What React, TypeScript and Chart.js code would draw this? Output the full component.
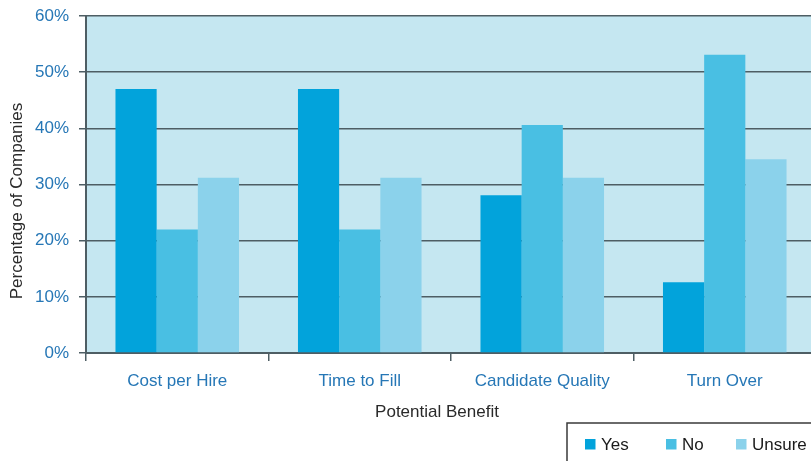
import React, { useEffect, useRef } from "react";
import { Chart, registerables } from "chart.js";

Chart.register(...registerables);

const categories = ["Cost per Hire", "Time to Fill", "Candidate Quality", "Turn Over"];
const seriesNames = ["Yes", "No", "Unsure"];
const yesValues = [47, 47, 28.1, 12.6];
const noValues = [22, 22, 40.6, 53.1];
const unsureValues = [31.2, 31.2, 31.2, 34.5];
const yTickMax = 60;
const yTickStep = 10;
const xAxisTitle = "Potential Benefit";
const yAxisTitle = "Percentage of Companies";

const colors = ["#02a3db", "#49bfe3", "#8bd2eb"];
const FONT = "'Liberation Sans', Arial, Helvetica, sans-serif";
const GRID = "#4e5e64";
const TICK_BLUE = "#2677b6";

const CANVAS_W = 816;
const CANVAS_H = 461;

const bgPlugin = {
  id: "plotBg",
  beforeDraw(chart: any) {
    const { ctx, chartArea } = chart;
    ctx.save();
    ctx.fillStyle = "#c5e7f1";
    ctx.fillRect(chartArea.left, chartArea.top, chartArea.right - chartArea.left, chartArea.bottom - chartArea.top);
    ctx.restore();
  },
};

const titlesPlugin = {
  id: "axisTitles",
  afterDraw(chart: any) {
    const { ctx } = chart;
    ctx.save();
    ctx.font = `17px ${FONT}`;
    ctx.fillStyle = "#2a2a2a";
    ctx.textAlign = "center";
    ctx.textBaseline = "middle";
    ctx.fillText(xAxisTitle, 437, 412);
    ctx.translate(17, 201);
    ctx.rotate(-Math.PI / 2);
    ctx.fillText(yAxisTitle, 0, 0);
    ctx.restore();
  },
};

const legendX = [585, 666, 736];

const legendPlugin = {
  id: "boxLegend",
  afterDraw(chart: any) {
    const { ctx } = chart;
    ctx.save();
    ctx.strokeStyle = "#3a3a3a";
    ctx.lineWidth = 1.5;
    ctx.strokeRect(567, 423, CANVAS_W, 60);
    ctx.font = `17px ${FONT}`;
    ctx.textBaseline = "middle";
    ctx.textAlign = "left";
    chart.data.datasets.forEach((ds: any, i: number) => {
      const x = legendX[i];
      ctx.fillStyle = ds.backgroundColor;
      ctx.fillRect(x, 439, 10.5, 10.5);
      ctx.fillStyle = "#1a1a1a";
      ctx.fillText(ds.label, x + 16, 445);
    });
    ctx.restore();
  },
};

export default function App() {
  const ref = useRef<HTMLCanvasElement | null>(null);

  useEffect(() => {
    if (!ref.current) return;
    const chart = new Chart(ref.current, {
      type: "bar",
      data: {
        labels: categories,
        datasets: [yesValues, noValues, unsureValues].map((vals, i) => ({
          label: seriesNames[i],
          data: vals,
          backgroundColor: colors[i],
          borderWidth: 0,
          barPercentage: 1.0,
          categoryPercentage: 0.677,
        })),
      },
      options: {
        responsive: false,
        animation: false,
        devicePixelRatio: 1,
        layout: { padding: { top: 16, left: 0, right: 0, bottom: 0 } },
        plugins: {
          legend: { display: false },
          tooltip: { enabled: false },
        },
        scales: {
          x: {
            afterFit(scale: any) {
              scale.height = CANVAS_H - 353;
            },
            grid: {
              display: true,
              drawOnChartArea: false,
              drawTicks: true,
              tickLength: 8,
              color: GRID,
              lineWidth: 1.5,
              offset: true,
            },
            border: { display: true, color: GRID, width: 2 },
            ticks: {
              color: TICK_BLUE,
              font: { family: FONT, size: 17 },
              padding: 10,
              maxRotation: 0,
            },
            title: { display: false },
          },
          y: {
            min: 0,
            max: yTickMax,
            afterFit(scale: any) {
              scale.width = 86;
            },
            grid: {
              color: GRID,
              lineWidth: 1.5,
              tickLength: 7,
              drawTicks: true,
            },
            border: { display: true, color: GRID, width: 2 },
            ticks: {
              stepSize: yTickStep,
              color: TICK_BLUE,
              font: { family: FONT, size: 17, lineHeight: 0.6 },
              padding: 10,
              callback: (v: any) => `${v}%`,
            },
            title: { display: false },
          },
        },
      },
      plugins: [bgPlugin, titlesPlugin, legendPlugin],
    });
    return () => chart.destroy();
  }, []);

  return (
    <div
      style={{
        position: "fixed",
        left: 0,
        top: 0,
        width: 811,
        height: CANVAS_H,
        overflow: "hidden",
        background: "#ffffff",
      }}
    >
      <canvas ref={ref} width={CANVAS_W} height={CANVAS_H} style={{ width: CANVAS_W, height: CANVAS_H, display: "block" }} />
    </div>
  );
}
